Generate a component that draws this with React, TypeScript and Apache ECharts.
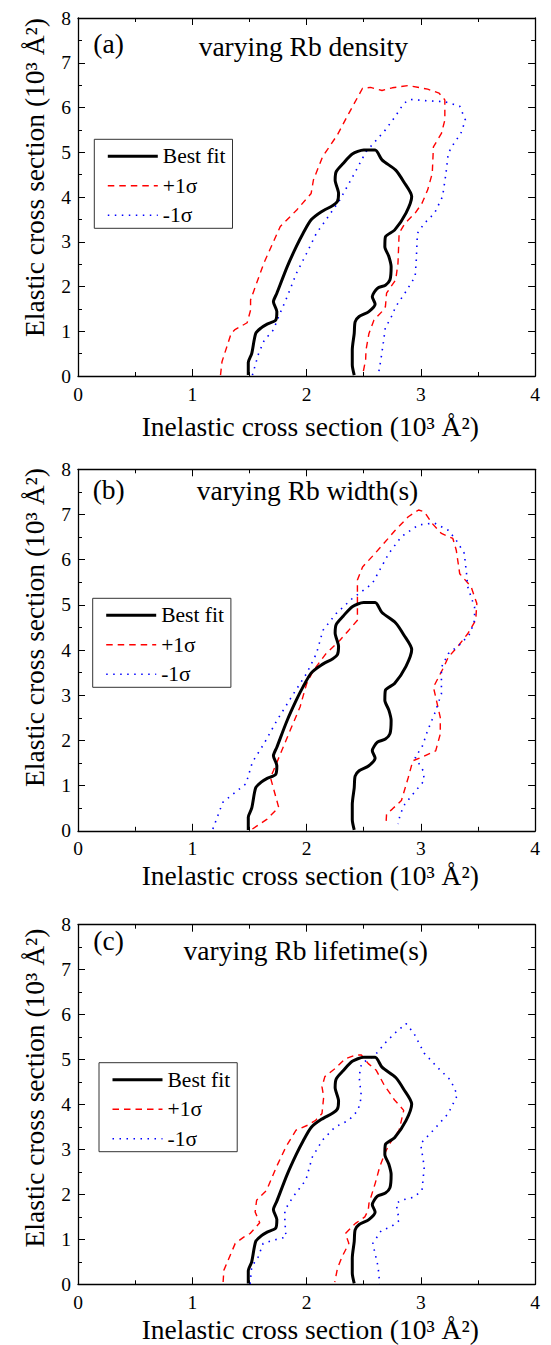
import React, { useEffect, useRef } from 'react';
import * as echarts from 'echarts';

// ---------------- data ----------------
const seriesNames = ['Best fit', '+1σ', '-1σ'];
const panelLabels = ['(a)', '(b)', '(c)'];
const panelTitles = ['varying Rb density', 'varying Rb width(s)', 'varying Rb lifetime(s)'];
const xAxisTitle = 'Inelastic cross section (10³ Å²)';
const yAxisTitle = 'Elastic cross section (10³ Å²)';

const bestFit: [number, number][] = [
  [1.49, 0.02], [1.49, 0.3], [1.52, 0.5], [1.555, 0.95], [1.6, 1.07], [1.655, 1.16], [1.73, 1.25],
  [1.74, 1.44], [1.71, 1.66], [1.74, 1.85], [1.83, 2.44], [1.91, 2.89], [1.97, 3.19], [2.04, 3.49],
  [2.13, 3.67], [2.23, 3.81], [2.27, 3.9], [2.28, 4.08], [2.25, 4.38], [2.26, 4.57], [2.32, 4.75],
  [2.4, 4.96], [2.5, 5.05], [2.6, 5.05], [2.66, 4.83], [2.78, 4.6], [2.85, 4.34], [2.92, 4.01],
  [2.87, 3.64], [2.77, 3.26], [2.69, 3.11], [2.685, 2.89], [2.72, 2.67], [2.74, 2.44], [2.73, 2.15],
  [2.69, 2.03], [2.62, 1.96], [2.575, 1.77], [2.6, 1.61], [2.545, 1.44], [2.46, 1.33], [2.425, 1.21],
  [2.417, 0.95], [2.4, 0.58], [2.4, 0.25], [2.417, 0.02],
];

const densityPlus: [number, number][] = [
  [1.247, 0.02], [1.26, 0.32], [1.34, 0.95], [1.37, 1.03], [1.48, 1.19], [1.51, 1.47], [1.51, 1.7],
  [1.626, 2.52], [1.77, 3.34], [1.914, 3.71], [2.04, 4.08], [2.06, 4.38], [2.14, 4.9], [2.27, 5.39],
  [2.37, 5.87], [2.49, 6.43], [2.56, 6.45], [2.66, 6.38], [2.75, 6.44], [2.89, 6.49], [3.06, 6.41],
  [3.16, 6.32], [3.21, 6.17], [3.21, 5.72], [3.18, 5.42], [3.11, 5.12], [3.1, 4.53], [3.06, 4.16],
  [3.01, 3.86], [2.95, 3.64], [2.86, 3.41], [2.81, 3.19], [2.8, 2.52], [2.78, 2.15], [2.7, 1.85],
  [2.69, 1.55], [2.66, 1.44], [2.59, 1.25], [2.546, 0.95], [2.52, 0.58], [2.517, 0.36], [2.49, 0.02],
];

const densityMinus: [number, number][] = [
  [1.526, 0.02], [1.58, 0.5], [1.63, 0.8], [1.71, 1.03], [1.756, 1.33], [1.83, 1.77], [1.91, 2.29],
  [2.0, 2.74], [2.086, 3.19], [2.17, 3.49], [2.29, 3.93], [2.42, 4.53], [2.52, 5.01], [2.69, 5.5],
  [2.776, 5.8], [2.85, 6.09], [2.905, 6.18], [3.06, 6.15], [3.21, 6.13], [3.34, 6.03], [3.39, 5.72],
  [3.35, 5.42], [3.29, 5.2], [3.24, 4.98], [3.22, 4.53], [3.19, 4.01], [3.12, 3.64], [3.03, 3.41],
  [2.97, 3.19], [2.96, 2.59], [2.95, 2.22], [2.86, 1.85], [2.78, 1.55], [2.73, 1.25], [2.69, 1.1],
  [2.675, 0.8], [2.65, 0.36], [2.63, 0.06],
];

const widthPlus: [number, number][] = [
  [1.526, 0.04], [1.655, 0.26], [1.756, 0.52], [1.684, 1.18], [1.71, 1.33], [1.856, 2.22], [1.943, 2.74],
  [2.0, 3.25], [2.06, 3.55], [2.17, 3.92], [2.29, 4.21], [2.37, 4.44], [2.445, 4.66], [2.445, 5.55],
  [2.49, 5.84], [2.6, 6.14], [2.776, 6.65], [2.89, 6.95], [2.98, 7.1], [3.03, 7.06], [3.1, 6.8],
  [3.18, 6.58], [3.28, 6.47], [3.31, 6.21], [3.34, 5.69], [3.44, 5.4], [3.49, 5.03], [3.48, 4.66],
  [3.41, 4.36], [3.32, 4.07], [3.24, 3.84], [3.2, 3.62], [3.11, 3.18], [3.17, 2.51], [3.17, 2.14],
  [3.13, 1.77], [3.01, 1.63], [2.93, 1.55], [2.89, 1.18], [2.83, 0.67], [2.75, 0.48], [2.7, 0.37],
  [2.695, 0.15],
];

const widthMinus: [number, number][] = [
  [1.18, 0.04], [1.267, 0.63], [1.34, 0.78], [1.47, 1.04], [1.526, 1.52], [1.626, 1.92], [1.74, 2.44],
  [1.885, 3.03], [2.0, 3.48], [2.086, 3.92], [2.144, 4.44], [2.26, 4.81], [2.4, 5.14], [2.575, 5.47],
  [2.72, 6.14], [2.83, 6.51], [2.98, 6.77], [3.12, 6.81], [3.24, 6.65], [3.31, 6.43], [3.38, 6.14],
  [3.4, 5.69], [3.41, 5.4], [3.47, 4.95], [3.47, 4.66], [3.43, 4.36], [3.35, 4.14], [3.24, 3.92],
  [3.18, 3.62], [3.18, 3.03], [3.12, 2.59], [3.06, 2.22], [3.01, 1.85], [2.95, 1.63], [3.02, 1.33],
  [3.03, 1.11], [2.93, 0.81], [2.86, 0.59], [2.82, 0.37], [2.8, 0.15],
];

const lifetimePlus: [number, number][] = [
  [1.27, 0.05], [1.276, 0.31], [1.376, 0.91], [1.45, 1.05], [1.506, 1.13], [1.59, 1.37], [1.55, 1.61],
  [1.563, 1.87], [1.65, 2.09], [1.736, 2.61], [1.82, 3.06], [1.908, 3.43], [2.01, 3.54], [2.08, 3.65],
  [2.135, 3.8], [2.15, 4.17], [2.135, 4.39], [2.16, 4.62], [2.25, 4.8], [2.34, 5.02], [2.43, 5.1],
  [2.48, 5.1], [2.54, 4.91], [2.61, 4.76], [2.68, 4.43], [2.77, 4.1], [2.85, 3.87], [2.81, 3.43],
  [2.727, 3.13], [2.684, 2.91], [2.64, 2.61], [2.6, 2.24], [2.546, 1.8], [2.54, 1.65], [2.51, 1.5],
  [2.425, 1.35], [2.34, 1.13], [2.37, 0.91], [2.31, 0.61], [2.27, 0.35], [2.247, 0.05],
];

const lifetimeMinus: [number, number][] = [
  [1.506, 0.01], [1.52, 0.39], [1.577, 0.61], [1.62, 0.91], [1.707, 0.98], [1.82, 1.05], [1.81, 1.42],
  [1.81, 1.65], [1.88, 1.94], [1.994, 2.32], [2.05, 2.83], [2.14, 3.21], [2.25, 3.5], [2.37, 3.65],
  [2.45, 3.87], [2.48, 4.17], [2.46, 4.62], [2.48, 4.91], [2.6, 5.1], [2.684, 5.36], [2.77, 5.58],
  [2.87, 5.8], [2.94, 5.58], [3.03, 5.14], [3.14, 4.84], [3.26, 4.54], [3.32, 4.21], [3.24, 3.8],
  [3.11, 3.43], [2.998, 3.13], [3.03, 2.61], [3.01, 2.09], [2.94, 1.94], [2.83, 1.87], [2.784, 1.8],
  [2.81, 1.42], [2.74, 1.28], [2.655, 1.2], [2.58, 0.91], [2.6, 0.68], [2.626, 0.39], [2.64, 0.01],
];

const panelData = [
  [bestFit, densityPlus, densityMinus],
  [bestFit, widthPlus, widthMinus],
  [bestFit, lifetimePlus, lifetimeMinus],
];

// ---------------- layout / style ----------------
const FONT = "'Liberation Serif', 'Times New Roman', serif";
const W = 535;
const H = 1337;

const layout = [
  { top: 10, height: 358, label: [85.3, 35.2], title: [295.3, 38.9], xTitleY: 418.4, yTitleY: 169.5, legend: [86.3, 131.3] },
  { top: 461.3, height: 361.5, label: [84.7, 481.2], title: [299.5, 482.9], xTitleY: 867.7, yTitleY: 619.5, legend: [84.7, 590.3] },
  { top: 916.7, height: 359.6, label: [85.3, 932.9], title: [297.8, 942.9], xTitleY: 1321.5, yTitleY: 1080, legend: [91, 1054.7] },
];
const gridLeft = 70;
const gridWidth = 464.5;

const seriesStyles = [
  { color: '#000000', width: 3, type: 'solid' as any },
  { color: '#ff0000', width: 1.4, type: [6.5, 5] as any },
  { color: '#0000ff', width: 1.6, type: [1.5, 5.5] as any },
];

function buildOption() {
  const grid: any[] = [];
  const xAxis: any[] = [];
  const yAxis: any[] = [];
  const series: any[] = [];
  const legend: any[] = [];
  const graphic: any[] = [];

  const axisLine = { show: true, onZero: false, lineStyle: { color: '#000', width: 1.3 } };
  const axisTick = { show: true, inside: true, length: 7, lineStyle: { color: '#000', width: 1 } };
  const minorTick = { show: true, splitNumber: 2, length: 4, lineStyle: { color: '#000', width: 1 } };
  const labelStyle = { fontFamily: FONT, fontSize: 19.5, color: '#000' };

  layout.forEach((L, i) => {
    grid.push({ left: gridLeft, top: L.top, width: gridWidth, height: L.height, containLabel: false });
    const xb = xAxis.length;
    xAxis.push({
      gridIndex: i, type: 'value', position: 'bottom', min: 0, max: 4, interval: 1,
      axisLine, axisTick, minorTick, splitLine: { show: false },
      axisLabel: { ...labelStyle, margin: 8 },
    });
    xAxis.push({
      gridIndex: i, type: 'value', position: 'top', min: 0, max: 4, interval: 1,
      axisLine, axisTick, minorTick, splitLine: { show: false }, axisLabel: { show: false },
    });
    const yb = yAxis.length;
    yAxis.push({
      gridIndex: i, type: 'value', position: 'left', min: 0, max: 8, interval: 1,
      axisLine, axisTick, minorTick, splitLine: { show: false },
      axisLabel: { ...labelStyle, margin: 7 },
    });
    yAxis.push({
      gridIndex: i, type: 'value', position: 'right', min: 0, max: 8, interval: 1,
      axisLine, axisTick, minorTick, splitLine: { show: false }, axisLabel: { show: false },
    });

    panelData[i].forEach((d, k) => {
      const st = seriesStyles[k];
      series.push({
        type: 'line', name: seriesNames[k], xAxisIndex: xb, yAxisIndex: yb,
        data: d, symbol: 'none', showSymbol: false, smooth: k === 0 ? 0.25 : false,
        color: st.color,
        lineStyle: { color: st.color, width: st.width, type: st.type },
        z: k === 0 ? 3 : 2,
      });
    });

    legend.push({
      orient: 'vertical', left: L.legend[0], top: L.legend[1],
      padding: [6, 7, 2, 12], itemGap: 7.5, itemWidth: 50, itemHeight: 14,
      borderColor: '#333', borderWidth: 1, borderRadius: 0, backgroundColor: '#fff',
      selectedMode: false,
      itemStyle: { opacity: 0 },
      textStyle: { fontFamily: FONT, fontSize: 21.5, color: '#000', lineHeight: 22 },
      data: seriesNames.map((n, k) => ({
        name: n,
        itemStyle: { opacity: 0 },
        lineStyle: { color: seriesStyles[k].color, width: seriesStyles[k].width, type: seriesStyles[k].type },
      })),
    });

    graphic.push({
      type: 'text', x: L.label[0], y: L.label[1],
      style: { text: panelLabels[i], font: `27.5px ${FONT}`, fill: '#000', textAlign: 'left', textVerticalAlign: 'middle' },
    });
    graphic.push({
      type: 'text', x: L.title[0], y: L.title[1],
      style: { text: panelTitles[i], font: `27.5px ${FONT}`, fill: '#000', textAlign: 'center', textVerticalAlign: 'middle' },
    });
    graphic.push({
      type: 'text', x: gridLeft + gridWidth / 2, y: L.xTitleY,
      style: { text: xAxisTitle, font: `27.5px ${FONT}`, fill: '#000', textAlign: 'center', textVerticalAlign: 'middle' },
    });
    graphic.push({
      type: 'text', x: 26, y: L.yTitleY, rotation: Math.PI / 2,
      style: { text: yAxisTitle, font: `27.5px ${FONT}`, fill: '#000', textAlign: 'center', textVerticalAlign: 'middle' },
    });
  });

  return {
    animation: false,
    backgroundColor: '#fff',
    grid, xAxis, yAxis, series, legend, graphic,
  };
}

export default function App() {
  const ref = useRef<HTMLDivElement>(null);
  useEffect(() => {
    if (!ref.current) return;
    const chart = echarts.init(ref.current, undefined, { renderer: 'svg' });
    chart.setOption(buildOption() as any);
    return () => chart.dispose();
  }, []);
  return <div ref={ref} style={{ width: W, height: H }} />;
}
